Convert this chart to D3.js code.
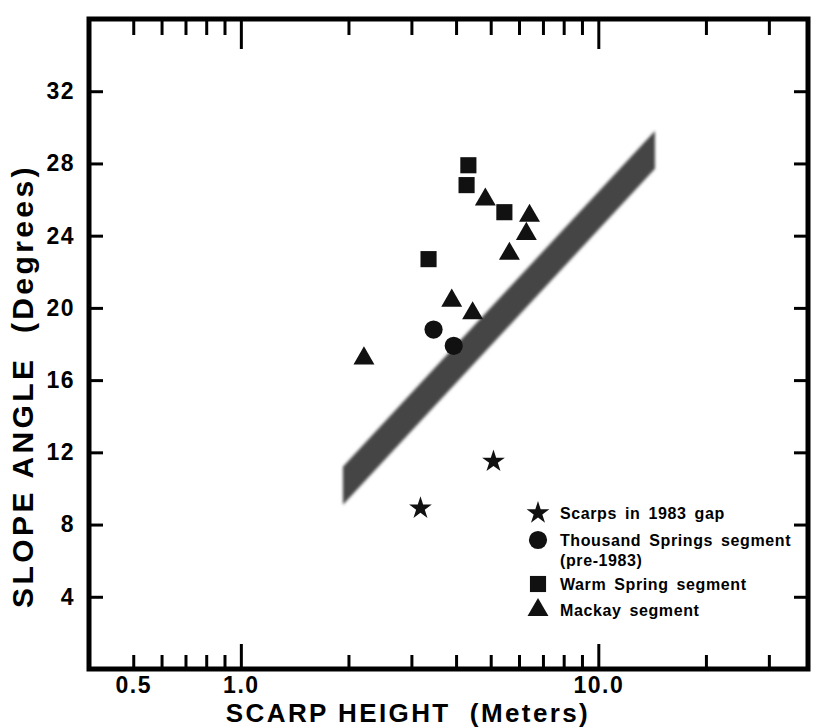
<!DOCTYPE html>
<html>
<head>
<meta charset="utf-8">
<script src="https://cdn.jsdelivr.net/npm/d3@7"></script>
<style>
  body { margin: 0; background: #fff; }
  svg { display: block; font-family: "Liberation Sans", Arial, sans-serif; font-weight: bold; }
</style>
</head>
<body>
<div class="chart"></div>
<script>

//scarp data (height in meters, slope in degrees)
var starX = [3.18, 5.09];
var starY = [8.9, 11.5];
var circleX = [3.46, 3.94];
var circleY = [18.8, 17.9];
var squareX = [4.33, 4.28, 3.35, 5.46];
var squareY = [27.9, 26.8, 22.7, 25.3];
var triX = [4.83, 6.42, 6.29, 5.64, 3.89, 4.45, 2.21];
var triY = [26.0, 25.1, 24.1, 23.0, 20.4, 19.7, 17.2];

//shaded band
var bandX = [1.93, 14.4];
var bandUpper = [11.2, 29.8];
var bandLower = [9.1, 27.7];

//ticks
var xMajorTicks = [1, 10];
var xMinorTicks = [0.5, 0.6, 0.7, 0.8, 0.9, 2, 3, 4, 5, 6, 7, 8, 9, 20, 30];
var xLabelTicks = [0.5, 1, 10];
var yTicks = [4, 8, 12, 16, 20, 24, 28, 32];

var legendLabels = [
  ["Scarps in 1983 gap"],
  ["Thousand Springs segment", "(pre-1983)"],
  ["Warm Spring segment"],
  ["Mackay segment"]
];

var w = 814, h = 728;
var box = {left: 89, right: 808, top: 19, bottom: 669};

var x = d3.scaleLog()
    .domain([0.376, 38.6])
    .range([box.left, box.right]);

var y = d3.scaleLinear()
    .domain([0, 36])
    .range([box.bottom, box.top]);

var svg = d3.select("div.chart")
    .append("svg")
    .attr("width", w)
    .attr("height", h)
    .attr("viewBox", `0 0 ${w} ${h}`);

var defs = svg.append("defs");
defs.append("filter")
    .attr("id", "soft")
    .append("feGaussianBlur")
    .attr("stdDeviation", 1.5);

//band
var band = d3.area()
    .x(function(d, i){ return x(bandX[i]); })
    .y0(function(d, i){ return y(bandLower[i]); })
    .y1(function(d, i){ return y(bandUpper[i]); });

svg.append("path")
    .datum(bandX)
    .attr("d", band)
    .attr("fill", "#454545")
    .attr("filter", "url(#soft)");

//axes helper: ticks only, no domain line
function styleAxis(g){
  g.select(".domain").remove();
  g.selectAll(".tick line").attr("stroke", "#000").attr("stroke-width", 3);
}

function styleLabels(size){
  return function(g){
    g.select(".domain").remove();
    g.selectAll("text")
      .attr("fill", "#000")
      .style("font-size", size)
      .style("font-weight", "bold")
      .style("letter-spacing", "1.5px")
      .style("font-family", "'Liberation Sans', Arial, sans-serif");
  };
}

svg.append("g")
    .attr("transform", `translate(0,${box.bottom})`)
    .call(d3.axisBottom(x).tickValues(xMinorTicks).tickSize(-14).tickFormat(""))
    .call(styleAxis);
svg.append("g")
    .attr("transform", `translate(0,${box.bottom})`)
    .call(d3.axisBottom(x).tickValues(xMajorTicks).tickSize(-25).tickFormat(""))
    .call(styleAxis);
svg.append("g")
    .attr("transform", `translate(0,${box.top})`)
    .call(d3.axisTop(x).tickValues(xMinorTicks).tickSize(-16).tickFormat(""))
    .call(styleAxis);
svg.append("g")
    .attr("transform", `translate(0,${box.top})`)
    .call(d3.axisTop(x).tickValues(xMajorTicks).tickSize(-30).tickFormat(""))
    .call(styleAxis);

//x labels
svg.append("g")
    .attr("transform", `translate(0,${box.bottom})`)
    .call(d3.axisBottom(x).tickValues(xLabelTicks).tickSize(0).tickPadding(8).tickFormat(d3.format(".1f")))
    .call(styleLabels("23px"));

//y ticks and labels
svg.append("g")
    .attr("transform", `translate(${box.left},0)`)
    .call(d3.axisLeft(y).tickValues(yTicks).tickSize(-14).tickPadding(14).tickFormat(d3.format("d")))
    .call(styleAxis)
    .call(styleLabels("23px"));
svg.append("g")
    .attr("transform", `translate(${box.right},0)`)
    .call(d3.axisRight(y).tickValues(yTicks).tickSize(-14).tickFormat(""))
    .call(styleAxis);

//frame
svg.append("rect")
    .attr("x", box.left)
    .attr("y", box.top)
    .attr("width", box.right - box.left)
    .attr("height", box.bottom - box.top)
    .attr("fill", "none")
    .attr("stroke", "#000")
    .attr("stroke-width", 5);

//symbols
var sym = {
  star: d3.symbol().type(d3.symbolStar).size(160),
  circle: d3.symbol().type(d3.symbolCircle).size(260),
  square: d3.symbol().type(d3.symbolSquare).size(260),
  tri: d3.symbol().type(d3.symbolTriangle).size(190)
};

function plotSeries(xs, ys, s){
  svg.append("g").selectAll("path")
      .data(xs)
      .enter()
      .append("path")
        .attr("transform", function(d, i){ return `translate(${x(d)},${y(ys[i])})`; })
        .attr("d", s)
        .attr("fill", "#111");
}
plotSeries(starX, starY, sym.star);
plotSeries(circleX, circleY, sym.circle);
plotSeries(squareX, squareY, sym.square);
plotSeries(triX, triY, sym.tri);

//legend
var legendSyms = [sym.star, sym.circle, sym.square, sym.tri];
var legendRows = [513, 540, 584, 610];
var legend = svg.append("g");
legendLabels.forEach(function(lines, i){
  legend.append("path")
      .attr("transform", `translate(538,${legendRows[i]})`)
      .attr("d", legendSyms[i]())
      .attr("fill", "#111");
  var t = legend.append("text")
      .attr("x", 560)
      .attr("y", legendRows[i] + 6)
      .style("font-size", "16px")
      .style("letter-spacing", "0.6px")
      .style("word-spacing", "3px");
  lines.forEach(function(l, j){
    t.append("tspan")
        .attr("x", 560)
        .attr("dy", j == 0 ? 0 : 20)
        .text(l);
  });
});

//axis titles
svg.append("text")
    .attr("x", 408)
    .attr("y", 722)
    .attr("text-anchor", "middle")
    .attr("xml:space", "preserve")
    .style("font-size", "26px")
    .style("letter-spacing", "2.4px")
    .text("SCARP HEIGHT  (Meters)");

svg.append("text")
    .attr("transform", "translate(33,386) rotate(-90)")
    .attr("text-anchor", "middle")
    .attr("xml:space", "preserve")
    .style("font-size", "30px")
    .style("letter-spacing", "3.4px")
    .text("SLOPE ANGLE  (Degrees)");

</script>
</body>
</html>
